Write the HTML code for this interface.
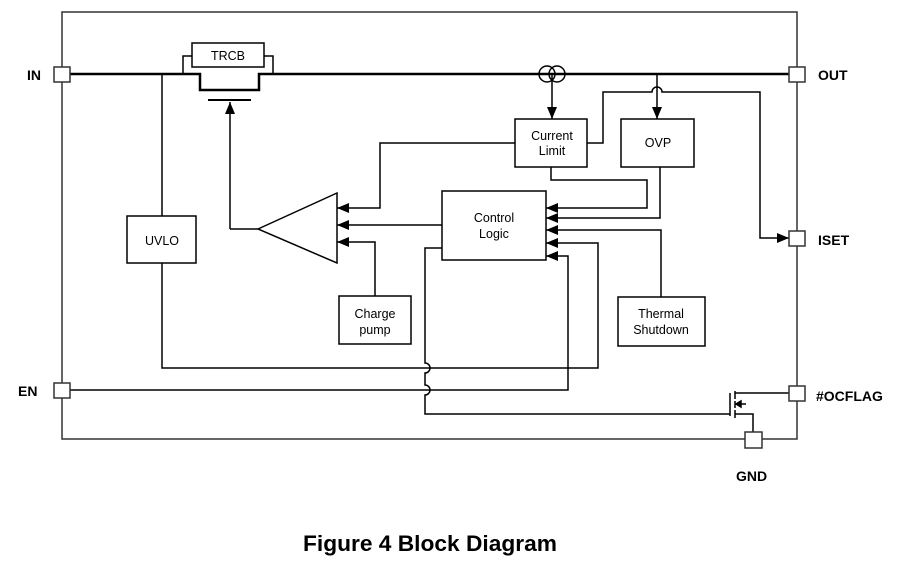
<!DOCTYPE html>
<html><head><meta charset="utf-8"><style>
html,body{margin:0;padding:0;background:#fff;}
svg{display:block;}
text{font-family:"Liberation Sans",Arial,sans-serif;fill:#000;}
</style></head><body>
<svg width="910" height="569" viewBox="0 0 910 569" xmlns="http://www.w3.org/2000/svg">
<defs>
<marker id="a" markerWidth="12" markerHeight="10" refX="12" refY="5" orient="auto" markerUnits="userSpaceOnUse">
<path d="M0,0 L12,5 L0,10 Z" fill="#000"/></marker>
</defs>
<g fill="none" stroke="#000" stroke-width="1.5">
<rect x="62" y="12" width="735" height="427" stroke="#333"/>
<path d="M70,74 H183 M273,74 H789" stroke-width="2.5"/>
<rect x="192" y="43" width="72" height="24" stroke-width="1.5"/>
<path d="M183,74 V56 H192 M264,56 H273 V74" stroke-width="1.5"/>
<path d="M183,74 H200 V90 H259 V74 H273" stroke-width="2.5"/>
<path d="M208,100 H251" stroke-width="2"/>
<path d="M230,229 V102" marker-end="url(#a)"/>
<path d="M230,229 H258"/>
<circle cx="547" cy="74" r="8"/><circle cx="557" cy="74" r="8"/>
<path d="M552,74 V119" marker-end="url(#a)"/>
<path d="M657,74 V119" marker-end="url(#a)"/>
<rect x="515" y="119" width="72" height="48"/>
<rect x="621" y="119" width="73" height="48"/>
<rect x="442" y="191" width="104" height="69"/>
<rect x="127" y="216" width="69" height="47"/>
<rect x="618" y="297" width="87" height="49"/>
<rect x="339" y="296" width="72" height="48"/>
<path d="M258,229 L337,193 V263 Z"/>
<path d="M587,143 H603 V92 H652 A5,5 0 0 1 662,92 H760 V238 H789" marker-end="url(#a)"/>
<path d="M515,143 H380 V208 H337" marker-end="url(#a)"/>
<path d="M442,225 H337" marker-end="url(#a)"/>
<path d="M375,296 V242 H337" marker-end="url(#a)"/>
<path d="M551,167 V180 H647 V208 H546" marker-end="url(#a)"/>
<path d="M660,167 V218 H546" marker-end="url(#a)"/>
<path d="M661,297 V230 H546" marker-end="url(#a)"/>
<path d="M162,74 V216 M162,263 V368 H598 V243 H546" marker-end="url(#a)"/>
<path d="M70,390 H568 V256 H546" marker-end="url(#a)"/>
<path d="M442,248 H425 V363 A5,5 0 0 1 425,373 V385 A5,5 0 0 1 425,395 V414 H730"/>
<path d="M730,393 V416"/>
<path d="M735,391 V399 M735,401 V408 M735,410 V418" stroke-width="1.5"/>
<path d="M735,393 H789 M735,404 H746 M735,414 H753 V432"/>
<path d="M736,404 L741,401 V407 Z" fill="#000"/>
<g fill="#fff" stroke="#333">
<rect x="54" y="67" width="16" height="15"/>
<rect x="789" y="67" width="16" height="15"/>
<rect x="789" y="231" width="16" height="15"/>
<rect x="54" y="383" width="16" height="15"/>
<rect x="789" y="386" width="16" height="15"/>
<rect x="745" y="432" width="17" height="16"/>
</g>
</g>
<g font-size="14" font-weight="bold">
<text x="27" y="80">IN</text>
<text x="818" y="80">OUT</text>
<text x="818" y="245">ISET</text>
<text x="18" y="396">EN</text>
<text x="816" y="401">#OCFLAG</text>
<text x="736" y="481">GND</text>
</g>
<g font-size="12.5" text-anchor="middle">
<text x="228" y="60">TRCB</text>
<text x="552" y="140">Current</text><text x="552" y="155">Limit</text>
<text x="658" y="147">OVP</text>
<text x="494" y="222">Control</text><text x="494" y="238">Logic</text>
<text x="162" y="245">UVLO</text>
<text x="661" y="318">Thermal</text><text x="661" y="334">Shutdown</text>
<text x="375" y="318">Charge</text><text x="375" y="334">pump</text>
</g>
<text x="303" y="551" font-size="22" font-weight="bold" textLength="254" lengthAdjust="spacingAndGlyphs">Figure 4 Block Diagram</text>
</svg>
</body></html>
